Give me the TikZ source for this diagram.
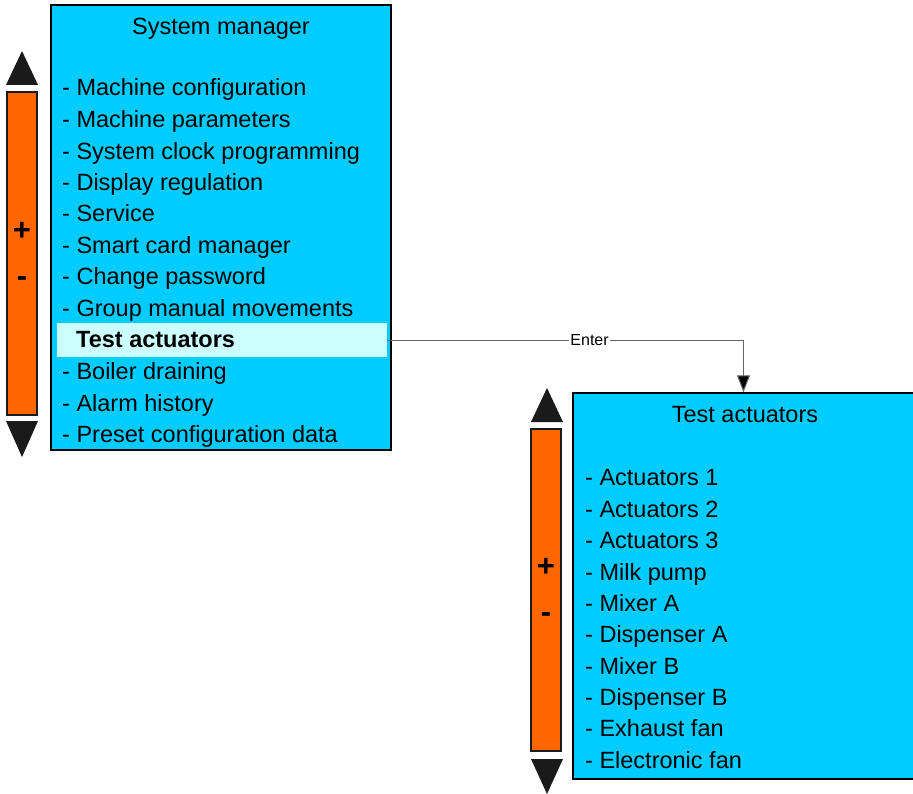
\documentclass[tikz,border=0pt]{standalone}
\usepackage{fontspec}
\setmainfont{Liberation Sans}
\usetikzlibrary{arrows.meta}
\definecolor{boxcyan}{HTML}{00CCFF}
\definecolor{hlcyan}{HTML}{CCFFFF}
\definecolor{barorange}{HTML}{FF6600}
\definecolor{tridark}{HTML}{1A1A1A}
\tikzset{
  panel/.style={draw=black, line width=1.5pt, fill=boxcyan, inner sep=0pt},
  bar/.style={draw=tridark, line width=1.5pt, fill=barorange, inner sep=0pt},
  tri/.style={fill=tridark, draw=none},
  item/.style={anchor=west, inner sep=0pt, yshift=-2pt, text height=17pt, text depth=5pt, font=\fontsize{23.5}{26}\selectfont},
  ttl/.style={inner sep=0pt, yshift=-2pt, text height=17pt, text depth=5pt, font=\fontsize{23.5}{26}\selectfont},
  sign/.style={inner sep=0pt, font=\bfseries\fontsize{31}{32}\selectfont},
  conn/.style={draw=black!60, line width=1pt},
}
\begin{document}
\begin{tikzpicture}[x=1pt,y=-1pt]
\useasboundingbox (0,0) rectangle (913,794);
% ---------- left panel ----------
\node[panel, minimum width=340pt, minimum height=445pt] (lbox) at (221,227.5) {};
\node[ttl] (ltitle) at (221,27) {System manager};
\node[fill=hlcyan, inner sep=0pt, minimum width=330pt, minimum height=34pt] (hl) at (222,340) {};
\foreach \t/\y [count=\i] in {
  {- Machine configuration}/88,
  {- Machine parameters}/120,
  {- System clock programming}/152,
  {- Display regulation}/183,
  {- Service}/214,
  {- Smart card manager}/246,
  {- Change password}/277,
  {- Group manual movements}/309}
  \node[item] (l\i) at (62,\y) {\t};
\node[item, font=\bfseries\fontsize{23.5}{26}\selectfont] (l9) at (76,340) {Test actuators};
\foreach \t/\y [count=\i from 10] in {
  {- Boiler draining}/371,
  {- Alarm history}/403,
  {- Preset configuration data}/434}
  \node[item] (l\i) at (62,\y) {\t};
% left scrollbar
\fill[tri] (6,85) -- (38,85) -- (22,51) -- cycle;
\node[bar, minimum width=30pt, minimum height=323pt] (lbar) at (22,253.5) {};
\fill[tri] (6,421) -- (38,421) -- (22,457) -- cycle;
\node[sign] (lplus) at (22,231) {+};
\node[sign] (lminus) at (22,282) {-};
% ---------- right panel ----------
\node[panel, minimum width=341pt, minimum height=386pt] (rbox) at (743.5,586) {};
\node[ttl] (rtitle) at (745,414) {Test actuators};
\foreach \t/\y [count=\i] in {
  {- Actuators 1}/477,
  {- Actuators 2}/509,
  {- Actuators 3}/540,
  {- Milk pump}/572,
  {- Mixer A}/603,
  {- Dispenser A}/634,
  {- Mixer B}/666,
  {- Dispenser B}/697,
  {- Exhaust fan}/728,
  {- Electronic fan}/760}
  \node[item] (r\i) at (585,\y) {\t};
% right scrollbar
\fill[tri] (531,422) -- (563,422) -- (547,388) -- cycle;
\node[bar, minimum width=30pt, minimum height=322pt] (rbar) at (546,590) {};
\fill[tri] (531,759) -- (563,759) -- (547,794) -- cycle;
\node[sign] (rplus) at (546,567) {+};
\node[sign] (rminus) at (546,618) {-};
% ---------- connector ----------
\draw[conn, -{Triangle[length=17pt,width=13pt,fill=black]}] (hl.east) -| node[pos=0.284, fill=white, inner sep=1pt, font=\fontsize{16}{18}\selectfont, text=black] {Enter} (rbox.north);
\end{tikzpicture}
\end{document}
